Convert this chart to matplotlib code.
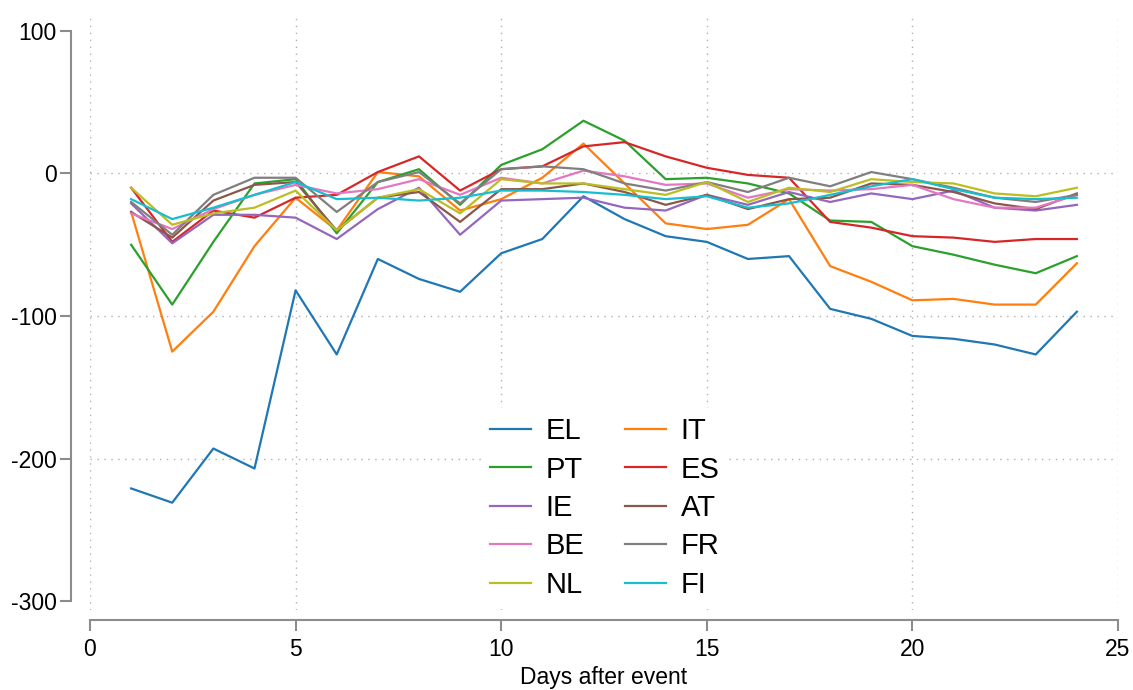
import numpy as np
import matplotlib
matplotlib.use("Agg")
from matplotlib import pyplot as plt

plt.rcParams['font.family'] = ['Liberation Sans', 'DejaVu Sans']
plt.rcParams['axes.unicode_minus'] = False

days = list(range(1, 25))
names = ['EL', 'IT', 'PT', 'ES', 'IE', 'AT', 'BE', 'FR', 'NL', 'FI']

EL = [-221, -231, -193, -207, -82, -127, -60, -74, -83, -56, -46, -16,
      -32, -44, -48, -60, -58, -95, -102, -114, -116, -120, -127, -97]
IT = [-27, -125, -97, -51, -17, -40, 1, -2, -26, -18, -3, 21,
      -7, -35, -39, -36, -18, -65, -76, -89, -88, -92, -92, -63]
PT = [-50, -92, -48, -7, -4, -42, -6, 3, -22, 6, 17, 37,
      23, -4, -3, -7, -14, -33, -34, -51, -57, -64, -70, -58]
ES = [-10, -48, -26, -31, -17, -15, 1, 12, -12, 3, 5, 19,
      22, 12, 4, -1, -3, -34, -38, -44, -45, -48, -46, -46]
IE = [-21, -49, -29, -29, -31, -46, -25, -10, -43, -19, -18, -17,
      -24, -26, -15, -22, -13, -20, -14, -18, -12, -24, -26, -22]
AT = [-27, -45, -19, -8, -6, -40, -17, -13, -34, -11, -11, -7,
      -13, -22, -15, -25, -18, -17, -7, -8, -13, -21, -25, -14]
BE = [-28, -39, -25, -15, -8, -14, -11, -4, -15, -3, -7, 2,
      -2, -8, -7, -17, -11, -12, -11, -8, -18, -24, -24, -15]
FR = [-20, -43, -15, -3, -3, -27, -6, 1, -21, 3, 5, 3,
      -7, -12, -6, -13, -3, -9, 1, -4, -10, -17, -20, -15]
NL = [-10, -36, -28, -24, -12, -40, -17, -11, -28, -4, -7, -7,
      -11, -15, -6, -20, -10, -13, -4, -6, -7, -14, -16, -10]
FI = [-18, -32, -24, -15, -6, -18, -17, -19, -17, -12, -12, -13,
      -15, -18, -16, -24, -21, -15, -9, -4, -11, -17, -18, -17]
series = [EL, IT, PT, ES, IE, AT, BE, FR, NL, FI]

W, H = 1133, 690
fig = plt.figure(figsize=(W / 100, H / 100), dpi=100)
# plot area in pixels: x 90..1118, y 15..610
ax = fig.add_axes([90 / W, 1 - 610 / H, (1118 - 90) / W, (610 - 15) / H])

colors = plt.rcParams['axes.prop_cycle'].by_key()['color']
lines = {}
for name, vals, c in zip(names, series, colors):
    lines[name], = ax.plot(days, vals, color=c, linewidth=1.6, label=name)

ax.set_xlim(0, 25)
ax.set_ylim(-306.3, 111.2)
ax.set_xticks([0, 5, 10, 15, 20, 25])
ax.set_yticks([100, 0, -100, -200, -300])

gridcol = '#b0b0b0'
for xv in [0, 5, 10, 15, 20, 25]:
    ax.axvline(xv, color=gridcol, linestyle=(0, (1, 4)), linewidth=1, zorder=0)
for yv in [0, -100, -200]:
    ax.axhline(yv, color=gridcol, linestyle=(0, (1, 4)), linewidth=1, zorder=0)

for s in ['top', 'right']:
    ax.spines[s].set_visible(False)
ax.spines['left'].set_position(('outward', 14))
ax.spines['bottom'].set_position(('outward', 7))
ax.spines['left'].set_bounds(-300, 100)
ax.spines['bottom'].set_bounds(0, 25)
for s in ['left', 'bottom']:
    ax.spines[s].set_color('#8c8c8c')
    ax.spines[s].set_linewidth(1.5)
ax.tick_params(colors='#8c8c8c', labelcolor='black', width=1.5, length=8,
               labelsize=16.5)
ax.tick_params(axis='y', pad=2)
ax.tick_params(axis='x', pad=5)
ax.set_xlabel('Days after event', fontsize=16.5, labelpad=4)

order = ['EL', 'PT', 'IE', 'BE', 'NL', 'IT', 'ES', 'AT', 'FR', 'FI']
leg = ax.legend([lines[n] for n in order], order, ncol=2, frameon=True,
                loc='center', bbox_to_anchor=(605 / W, 1 - 508 / H),
                bbox_transform=fig.transFigure, fontsize=21,
                handlelength=1.4, handletextpad=0.5, columnspacing=1.4,
                labelspacing=0.36, borderpad=0.3)
leg.get_frame().set_edgecolor('none')
leg.get_frame().set_facecolor('white')
leg.get_frame().set_alpha(1)

fig.savefig('out.png', dpi=100)
